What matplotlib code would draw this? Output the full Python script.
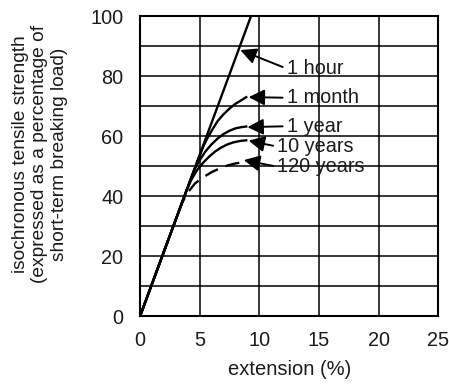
import matplotlib
matplotlib.use("Agg")
import matplotlib.pyplot as plt

plt.rcParams['font.family'] = ['Liberation Sans', 'DejaVu Sans']

# isochronous curves
hour_x = [0, 9.3]
hour_y = [0, 100]

month_x = [0, 4.7, 5.0, 5.3, 5.6, 6.0, 6.5, 7.0, 7.5, 8.0, 8.5, 8.9]
month_y = [0, 50.5, 53.5, 56.5, 59.0, 61.8, 65.0, 67.3, 69.2, 70.8, 72.0, 73.0]

year_x = [0, 4.3, 4.6, 5.0, 5.5, 6.0, 6.5, 7.0, 7.5, 8.0, 8.5, 8.9]
year_y = [0, 46.2, 49.2, 52.0, 55.0, 57.3, 59.2, 60.7, 61.8, 62.6, 63.0, 63.2]

years10_x = [0, 3.9, 4.3, 4.8, 5.3, 5.8, 6.3, 6.8, 7.3, 7.8, 8.4, 8.9]
years10_y = [0, 42.0, 45.5, 48.8, 51.2, 53.2, 54.9, 56.2, 57.2, 57.9, 58.4, 58.6]

years120_x = [0, 3.5, 4.0, 4.6, 5.3, 6.0, 6.7, 7.4, 8.0, 8.6]
years120_y = [0, 37.6, 41.2, 44.2, 46.3, 48.0, 49.3, 50.3, 50.9, 51.3]

labels = ['1 hour', '1 month', '1 year', '10 years', '120 years']
head_x = [8.4, 9.1, 9.0, 9.1, 8.7]
head_y = [88.7, 73.0, 63.0, 58.5, 52.0]
text_x = [12.3, 12.3, 12.3, 11.5, 11.5]
text_y = [82.5, 72.8, 63.3, 56.5, 49.8]

xticks = [0, 5, 10, 15, 20, 25]
yticks = [0, 20, 40, 60, 80, 100]

fig = plt.figure(figsize=(4.49, 3.85), dpi=100)
ax = fig.add_axes([0.312, 0.179, 0.664, 0.779])

ax.plot(hour_x, hour_y, color='black', lw=1.7, zorder=3)
ax.plot(month_x, month_y, color='black', lw=1.7, zorder=3)
ax.plot(year_x, year_y, color='black', lw=1.7, zorder=3)
ax.plot(years10_x, years10_y, color='black', lw=1.7, zorder=3)
ax.plot(years120_x, years120_y, color='black', lw=1.7, dashes=(6, 3.5), zorder=3)

for lab, hx, hy, tx, ty in zip(labels, head_x, head_y, text_x, text_y):
    ax.annotate(lab, xy=(hx, hy), xytext=(tx, ty), ha='left', va='center',
                fontsize=14.3, color='#1a1a1a',
                arrowprops=dict(arrowstyle='-|>,head_length=0.8,head_width=0.4',
                                mutation_scale=12, color='black', lw=1.4,
                                shrinkA=1, shrinkB=0, relpos=(0, 0.5)))

ax.set_xlim(0, 25)
ax.set_ylim(0, 100)
ax.set_xticks(xticks)
ax.set_yticks(yticks)
ax.set_yticks(range(0, 101, 10), minor=True)
ax.grid(True, which='both', color='black', lw=1.1)
ax.tick_params(which='both', length=0, labelsize=14.3, colors='#1a1a1a')
ax.tick_params(axis='x', pad=11)
ax.tick_params(axis='y', pad=12)
for s in ax.spines.values():
    s.set_linewidth(1.5)

ax.set_xlabel('extension (%)', fontsize=14.5, color='#1a1a1a', labelpad=7)
fig.text(0.089, 0.60, 'isochronous tensile strength\n(expressed as a percentage of\nshort-term breaking load)',
         rotation=90, ha='center', va='center', multialignment='center',
         fontsize=13.8, color='#1a1a1a', linespacing=1.22)

fig.savefig('out.png', dpi=100)
